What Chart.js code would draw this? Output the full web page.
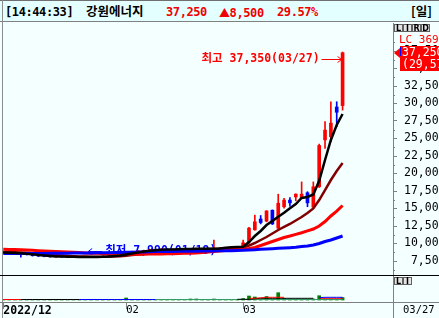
<!DOCTYPE html>
<html>
<head>
<meta charset="utf-8">
<script src="https://cdn.jsdelivr.net/npm/chart.js@4.4.0/dist/chart.umd.min.js"></script>
<style>
  html, body { margin: 0; padding: 0; background: #f4ffff; }
  #wrap { position: relative; width: 439px; height: 318px; overflow: hidden; background: #f4ffff; }
  #hdr { position: absolute; left: 0; top: 0; width: 439px; height: 22px; box-sizing: border-box;
         background: #e4ffff; border-top: 1px solid #707070; border-bottom: 1px solid #808080;
         font: bold 12px 'DejaVu Sans Mono', 'Noto Sans CJK KR', monospace; letter-spacing: -0.4px; }
  #hdr span { position: absolute; top: 4px; line-height: 14px; white-space: pre; }
  #hdr .nm { font-family: 'Noto Sans CJK KR', sans-serif; font-size: 12.5px; letter-spacing: 0; top: 3px; }
  #hdr .red { color: #f00000; }
  #hdr .tri { font-family: 'Noto Sans CJK KR', sans-serif; font-size: 11px; }
  #lborder { position: absolute; left: 2px; top: 0; width: 1px; height: 318px; background: #8c8c8c; }
  canvas { position: absolute; left: 0; }
</style>
</head>
<body>
<div id="wrap">
  <div id="hdr">
    <span style="left:5px">[14:44:33]</span>
    <span class="nm" style="left:86px">강원에너지</span>
    <span class="red" style="left:166px">37,250</span>
    <span class="red" style="left:219px"><span class="tri" style="position:static">▲</span>8,500</span>
    <span class="red" style="left:277px">29.57%</span>
    <span class="nm" style="left:411px;font-weight:bold">[일]</span>
  </div>
  <div id="lborder"></div>
  <canvas id="price" width="439" height="254" style="top:22px"></canvas>
  <canvas id="vol" width="439" height="42" style="top:276px"></canvas>
</div>
<script>
  const _ = null;

  // trading days shown (2022/12/29 .. 2023/03/27)
  const dates = ['12/29',
    '01/02','01/03','01/04','01/05','01/06','01/09','01/10','01/11','01/12','01/13',
    '01/16','01/17','01/18','01/19','01/20','01/25','01/26','01/27','01/30','01/31',
    '02/01','02/02','02/03','02/06','02/07','02/08','02/09','02/10','02/13','02/14',
    '02/15','02/16','02/17','02/20','02/21','02/22','02/23','02/24','02/27','02/28',
    '03/02','03/03','03/06','03/07','03/08','03/09','03/10','03/13','03/14','03/15',
    '03/16','03/17','03/20','03/21','03/22','03/23','03/24','03/27'];

  const opens = [8750, 8700, 8620, 8560, 8450, 8400, 8250, 8200, 8150, 8100,
    8120, 8080, 8100, 8050, 8030, 8010, 8100, 8150, 8200, 8280,
    8350, 8500, 8700, 8850, 8950, 9000, 9100, 9150, 9200, 9150,
    9200, 9250, 9200, 9250, 9300, 9250, 9200, 9300, 9350, 9300,
    9350, 9600, 10200, 11950, 13500, 13200, 14750, 12200, 15250, 16200,
    16650, 16500, 17250, 15200, 18100, 24800, 25250, 29500, 29700];
  const highs = [8800, 8750, 8650, 8600, 8500, 8420, 8280, 8230, 8180, 8150,
    8150, 8120, 8120, 8080, 8060, 8120, 8180, 8230, 8300, 8380,
    8550, 8750, 8900, 9000, 9050, 9150, 9200, 9250, 9250, 9230,
    9280, 9280, 9280, 9330, 9330, 9280, 10500, 9400, 9380, 9380,
    9450, 10500, 12300, 14050, 14000, 14700, 14800, 17050, 16450, 16550,
    17100, 18800, 17400, 18800, 24200, 27400, 30250, 30250, 37350];
  const lows = [8650, 8580, 8500, 8050, 8350, 8200, 8150, 8100, 8050, 8060,
    8030, 8040, 8010, 8000, 7990, 8000, 8080, 8120, 8170, 8250,
    8320, 8450, 8650, 8800, 8900, 8950, 9050, 9100, 9100, 9120,
    9150, 9150, 9170, 9200, 9200, 9150, 9150, 9250, 9270, 9270,
    9300, 9550, 9950, 11900, 12800, 13100, 12700, 12100, 15050, 15350,
    16100, 16400, 15250, 15100, 18000, 23600, 24550, 26700, 29050];
  const closes = [8700, 8620, 8550, 8450, 8400, 8250, 8200, 8150, 8100, 8120,
    8080, 8100, 8050, 8030, 8010, 8100, 8150, 8200, 8280, 8350,
    8500, 8700, 8850, 8950, 9000, 9100, 9150, 9200, 9150, 9200,
    9250, 9200, 9250, 9300, 9250, 9200, 9300, 9350, 9300, 9350,
    9400, 10100, 12200, 13100, 13000, 14650, 12800, 15750, 16200, 15800,
    17050, 17050, 15800, 18100, 24000, 26200, 27200, 28750, 37250];

  // moving averages
  const ma5 = [8700, 8680, 8640, 8600, 8550, 8450, 8370, 8290, 8220, 8160,
    8130, 8110, 8090, 8080, 8060, 8060, 8080, 8100, 8150, 8220,
    8300, 8440, 8580, 8720, 8850, 8960, 9050, 9120, 9140, 9160,
    9190, 9210, 9220, 9240, 9250, 9240, 9250, 9300, 9380, 9450,
    9500, 9540, 10210, 11070, 11790, 12640, 13210, 13830, 14400, 15030,
    15640, 16500, 16650, 17000, 18950, 21930, 24790, 26930, 28500];
  const ma10 = [8800, 8780, 8760, 8720, 8680, 8600, 8520, 8450, 8390, 8330,
    8270, 8220, 8180, 8150, 8130, 8110, 8100, 8100, 8110, 8140,
    8180, 8260, 8340, 8420, 8510, 8600, 8700, 8790, 8870, 8950,
    9020, 9080, 9130, 9160, 9190, 9200, 9220, 9250, 9270, 9310,
    9360, 9430, 9710, 10070, 10500, 10930, 11430, 11930, 12360, 12790,
    13290, 13790, 14360, 15000, 16210, 17640, 19070, 20360, 21500];
  const ma20 = [9170, 9150, 9130, 9100, 9060, 9020, 8980, 8940, 8900, 8860,
    8820, 8780, 8740, 8700, 8660, 8620, 8590, 8560, 8540, 8520,
    8500, 8490, 8480, 8480, 8480, 8490, 8500, 8510, 8520, 8540,
    8560, 8590, 8620, 8650, 8700, 8780, 8860, 8940, 9000, 9060,
    9110, 9170, 9290, 9430, 9710, 10000, 10290, 10570, 10860, 11070,
    11310, 11540, 11810, 12070, 12500, 13140, 13930, 14640, 15430];
  const ma60 = [8560, 8560, 8560, 8560, 8560, 8570, 8570, 8580, 8590, 8600,
    8610, 8620, 8630, 8640, 8650, 8660, 8670, 8680, 8690, 8700,
    8720, 8740, 8760, 8780, 8800, 8820, 8840, 8850, 8860, 8870,
    8880, 8890, 8900, 8910, 8920, 8930, 8940, 8950, 8960, 8980,
    9000, 9030, 9070, 9110, 9170, 9210, 9260, 9310, 9360, 9410,
    9470, 9560, 9640, 9790, 10000, 10290, 10500, 10790, 11070];

  // lower panel
  const volumes = [20000, 20000, 20000, 20000, 20000, 20000, 20000, 20000, 20000, 20000,
    20000, 20000, 20000, 20000, 20000, 20000, 20000, 20000, 20000, 20000,
    20000, 200000, 20000, 20000, 20000, 20000, 20000, 20000, 20000, 20000,
    20000, 20000, 100000, 100000, 20000, 20000, 100000, 20000, 20000, 20000,
    20000, 150000, 400000, 300000, 100000, 350000, 100000, 730000, 150000, 100000,
    100000, 100000, 100000, 100000, 430000, 100000, 100000, 100000, 250000];
  const volMaGreen = [50000, 50000, 50000, 50000, 50000, 50000, 50000, 50000, 50000, 50000,
    50000, 50000, 50000, 50000, 50000, 50000, 50000, 50000, 50000, 50000,
    50000, 50000, 50000, 50000, 50000, 50000, 50000, 50000, 50000, 50000,
    50000, 50000, 50000, 50000, 50000, 50000, 50000, 50000, 50000, 50000,
    50000, 50000, 50000, 50000, 50000, 50000, 50000, 50000, 50000, 50000,
    50000, 50000, 50000, 50000, 50000, 50000, 50000, 50000, 50000];
  const volMaRed = [50000, 50000, 50000, 50000, _, _, _, _, _, _,
    _, _, _, _, _, _, _, _, _, _,
    _, _, _, _, _, _, _, _, _, _,
    _, _, _, _, _, _, _, _, _, _,
    _, _, 170000, 170000, 220000, 270000, 270000, 270000, 270000, _,
    _, _, _, _, 170000, 170000, 170000, 170000, 170000];
  const volMaBlack = [_, _, _, 50000, 50000, 50000, 50000, 50000, 50000, 50000,
    50000, 50000, 50000, 50000, _, _, _, _, _, _,
    _, _, _, _, _, _, _, _, _, _,
    _, _, _, _, _, _, _, _, _, _,
    70000, 70000, 70000, 120000, 170000, 170000, 170000, 170000, 170000, 170000,
    170000, 170000, 170000, 170000, _, _, _, _, _];
  const volMaBlue = [_, _, _, _, _, _, _, _, _, _,
    _, _, _, 50000, 50000, 50000, 50000, 50000, 50000, 50000,
    50000, 50000, 50000, 50000, 50000, 50000, 50000, _, _, _,
    _, _, _, _, _, _, _, _, _, _,
    _, _, _, _, _, _, _, _, _, _,
    _, _, _, _, 230000, 270000, 270000, 270000, 270000];

  const priceTicks = [7500, 10000, 12500, 15000, 17500, 20000, 22500, 25000, 27500, 30000, 32500, 35000, 37500];
  const monthTickIdx = [0, 21, 41];
  const monthTickText = ['2022/12', '02', '03'];
  const lastChangeText = '(29,57%)';
  const topNote = 'LC 369';

  const FONT = "'DejaVu Sans Mono', 'Noto Sans CJK KR', monospace";
  const X_MIN = -0.05, X_MAX = 66.62;
  const AXIS = '#808080';

  const pts = arr => arr.map((v, i) => ({ x: i, y: v }));
  const candleColor = opens.map((o, i) => closes[i] >= o ? '#ff0000' : '#0000ff');
  const fmt = v => v.toLocaleString('en-US');
  // keep the label half-heights from shrinking the plot area
  const noPad = s => { s.paddingTop = 0; s.paddingBottom = 0; s.paddingLeft = 0; s.paddingRight = 0; };

  function drawKeys(ctx, letters, left, top) {
    letters.forEach((ch, k) => {
      const bx = left + k * 9;
      ctx.fillStyle = '#e4e4e4';
      ctx.fillRect(bx, top, 9, 8);
      ctx.strokeStyle = '#606060';
      ctx.lineWidth = 1;
      ctx.strokeRect(bx + 0.5, top + 0.5, 8, 7);
      ctx.fillStyle = '#000';
      ctx.font = "bold 8px 'DejaVu Sans'";
      ctx.textAlign = 'center';
      ctx.textBaseline = 'middle';
      ctx.fillText(ch, bx + 4.5, top + 4.5);
    });
  }

  function drawArrow(ctx, from, to, y) {
    const d = to > from ? -4 : 4;
    ctx.lineWidth = 1;
    ctx.beginPath();
    ctx.moveTo(from, y);
    ctx.lineTo(to, y);
    ctx.moveTo(to + d, y - 3);
    ctx.lineTo(to, y);
    ctx.lineTo(to + d, y + 3);
    ctx.stroke();
  }

  const priceMarks = {
    id: 'priceMarks',
    beforeDatasetsDraw(chart) {
      // lowest low note sits under the average lines
      const { ctx, scales: { x, y } } = chart;
      const lo = Math.min(...lows), i = lows.indexOf(lo);
      const px = x.getPixelForValue(i);
      const py = Math.round(y.getPixelForValue(lo) - 6.5) + 0.5;
      ctx.save();
      ctx.strokeStyle = ctx.fillStyle = '#0000ff';
      drawArrow(ctx, px + 17, px + 3, py);
      ctx.font = 'bold 11.5px ' + FONT;
      ctx.textAlign = 'left';
      ctx.textBaseline = 'middle';
      ctx.fillText('최저 ' + fmt(lo) + '(' + dates[i] + ')', px + 20, py);
      ctx.restore();
    },
    afterDraw(chart) {
      const { ctx, chartArea: a, scales: { x, y } } = chart;
      ctx.save();

      // short ticks between the labelled ones
      ctx.strokeStyle = AXIS;
      ctx.lineWidth = 1;
      [priceTicks[0] - 1250, ...priceTicks.map(v => v + 1250)].forEach(v => {
        const py = Math.round(y.getPixelForValue(v)) + 0.5;
        ctx.beginPath();
        ctx.moveTo(a.right, py);
        ctx.lineTo(a.right + 2, py);
        ctx.stroke();
      });

      // panel separator
      ctx.strokeStyle = '#000';
      ctx.beginPath();
      ctx.moveTo(0, a.bottom + 0.5);
      ctx.lineTo(chart.width, a.bottom + 0.5);
      ctx.stroke();

      // highest high note
      const hi = Math.max(...highs), hiIdx = highs.indexOf(hi);
      const hx = x.getPixelForValue(hiIdx);
      const hy = Math.round(y.getPixelForValue(hi) + 7) + 0.5;
      ctx.strokeStyle = ctx.fillStyle = '#ff0000';
      drawArrow(ctx, hx - 21, hx - 1, hy);
      ctx.font = 'bold 11.5px ' + FONT;
      ctx.textAlign = 'right';
      ctx.textBaseline = 'middle';
      ctx.fillText('최고 ' + fmt(hi) + '(' + dates[hiIdx] + ')', hx - 23, hy);

      // axis column: buttons, note, last price box
      drawKeys(ctx, ['L', 'I', 'R', 'D'], a.right + 1, a.top + 1);
      ctx.fillStyle = '#ff0000';
      ctx.font = '11px ' + FONT;
      ctx.textAlign = 'left';
      ctx.fillText(topNote, a.right + 6, a.top + 17);

      const last = closes[closes.length - 1];
      const cy = Math.round(y.getPixelForValue(last));
      ctx.fillStyle = '#ff0000';
      ctx.fillRect(a.right + 7, cy - 7, chart.width - a.right - 7, 25);
      ctx.beginPath();
      ctx.moveTo(a.right + 1, cy);
      ctx.lineTo(a.right + 7, cy - 5);
      ctx.lineTo(a.right + 7, cy + 5);
      ctx.closePath();
      ctx.fill();
      ctx.fillStyle = '#0000ff';
      ctx.fillRect(a.right + 7, cy - 6, 1, 9);
      ctx.fillStyle = '#ffffff';
      ctx.font = '11.5px ' + FONT;
      ctx.fillText(fmt(last), a.right + 9, cy);
      ctx.fillText(lastChangeText, a.right + 9, cy + 12);
      ctx.restore();
    }
  };

  const volMarks = {
    id: 'volMarks',
    afterDraw(chart) {
      const { ctx, chartArea: a } = chart;
      ctx.save();
      ctx.strokeStyle = AXIS;
      ctx.lineWidth = 1;
      ctx.beginPath();
      ctx.moveTo(0, a.bottom + 0.5);
      ctx.lineTo(chart.width, a.bottom + 0.5);
      ctx.moveTo(a.right + 0.5, 0);
      ctx.lineTo(a.right + 0.5, chart.height);
      ctx.stroke();
      drawKeys(ctx, ['L', 'I'], a.right + 1, a.top + 1);
      ctx.fillStyle = '#000';
      ctx.font = '10.5px ' + FONT;
      ctx.textAlign = 'left';
      ctx.textBaseline = 'middle';
      ctx.fillText(dates[dates.length - 1], a.right + 10, a.bottom + 8);
      ctx.restore();
    }
  };

  const lineDs = (arr, color, width, order) => ({
    type: 'line', data: pts(arr), borderColor: color, borderWidth: width,
    pointRadius: 0, tension: 0, order: order
  });

  new Chart(document.getElementById('price'), {
    type: 'bar',
    data: {
      datasets: [
        lineDs(ma5, '#000000', 2.5, 0),
        lineDs(ma60, '#0000ff', 3, 1),
        lineDs(ma20, '#ff0000', 3, 2),
        lineDs(ma10, '#800000', 2.5, 3),
        { data: opens.map((o, i) => ({ x: i, y: [o, closes[i]] })), backgroundColor: candleColor,
          barThickness: 3, grouped: false, order: 4 },
        { data: lows.map((l, i) => ({ x: i, y: [l, highs[i]] })), backgroundColor: candleColor,
          barThickness: 1, grouped: false, order: 5 }
      ]
    },
    options: {
      responsive: false,
      animation: false,
      events: [],
      layout: { padding: { left: 3, top: 1, right: 0, bottom: 1 } },
      plugins: { legend: { display: false }, tooltip: { enabled: false } },
      scales: {
        x: { type: 'linear', min: X_MIN, max: X_MAX, offset: false, display: false },
        y: {
          type: 'linear', position: 'right', min: 5500, max: 41500,
          afterFit: s => { s.width = 46; noPad(s); },
          afterBuildTicks: s => { s.ticks = priceTicks.map(v => ({ value: v })); },
          grid: { drawOnChartArea: false, tickLength: 4, color: AXIS },
          border: { color: AXIS },
          ticks: {
            padding: 7, color: '#000', autoSkip: false,
            font: { family: FONT, size: 11.5 },
            callback: v => fmt(v).padStart(6, ' ')
          }
        }
      }
    },
    plugins: [priceMarks]
  });

  new Chart(document.getElementById('vol'), {
    type: 'bar',
    data: {
      datasets: [
        lineDs(volMaBlue, '#0000ff', 1, 0),
        lineDs(volMaRed, '#ff0000', 1, 1),
        lineDs(volMaBlack, '#000000', 1, 2),
        lineDs(volMaGreen, '#339966', 1, 3),
        { data: pts(volumes), backgroundColor: '#008000', barThickness: 3, grouped: false, order: 4 }
      ]
    },
    options: {
      responsive: false,
      animation: false,
      events: [],
      layout: { padding: { left: 3, top: 0, right: 0, bottom: 0 } },
      plugins: { legend: { display: false }, tooltip: { enabled: false } },
      scales: {
        x: {
          type: 'linear', min: X_MIN, max: X_MAX, offset: false,
          afterBuildTicks: s => { s.ticks = monthTickIdx.map(v => ({ value: v })); },
          afterFit: s => { s.height = 16; noPad(s); },
          grid: { drawOnChartArea: false, tickLength: 7, color: AXIS, offset: false },
          border: { color: AXIS },
          ticks: {
            align: 'start', padding: -5, maxRotation: 0, autoSkip: false, color: '#000',
            font: c => c.index === 0 ? { family: FONT, size: 11.5, weight: 'bold' } : { family: FONT, size: 10.5 },
            callback: v => monthTickText[monthTickIdx.indexOf(v)]
          }
        },
        y: {
          type: 'linear', position: 'right', min: -200000, max: 2400000,
          afterFit: s => { s.width = 46; noPad(s); },
          ticks: { display: false },
          grid: { display: false },
          border: { color: AXIS }
        }
      }
    },
    plugins: [volMarks]
  });
</script>
</body>
</html>
